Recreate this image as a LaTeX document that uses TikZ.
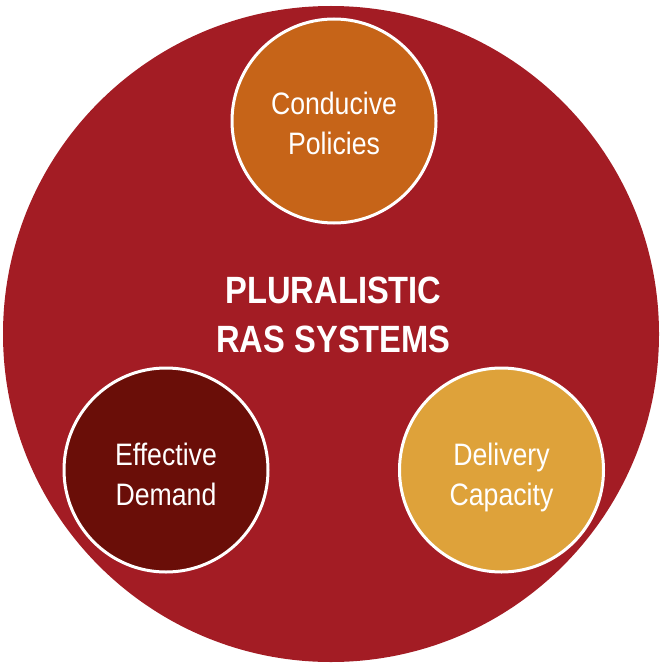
\documentclass[tikz,border=0pt]{standalone}
\usepackage{fontspec}
\setmainfont{Liberation Sans}
\newfontfamily\narrowfont[FakeStretch=0.86]{Liberation Sans}
\definecolor{bigred}{RGB}{163,28,36}
\definecolor{orangec}{RGB}{198,100,24}
\definecolor{darkc}{RGB}{106,14,8}
\definecolor{goldc}{RGB}{222,162,58}
\tikzset{
  outerc/.style={circle, fill=bigred, minimum size=656pt, inner sep=0pt},
  smallc/.style={circle, draw=white, line width=3pt, minimum size=204pt, inner sep=0pt},
  circtext/.style={text=white, align=center, inner sep=0pt, font=\narrowfont\fontsize{31}{40}\selectfont},
  titletext/.style={text=white, align=center, inner sep=0pt, font=\narrowfont\bfseries\fontsize{38}{49}\selectfont}
}
\newcommand{\ph}{\vphantom{Cy}}
\begin{document}
\begin{tikzpicture}[x=1pt,y=-1pt]
\useasboundingbox (0,0) rectangle (660,663);
\node[outerc] (outer) at (331,334) {};
\node[smallc, fill=orangec] (policies) at (334,121) {};
\node[smallc, fill=darkc] (demand) at (166,470) {};
\node[smallc, fill=goldc] (delivery) at (501.5,470) {};
\node[circtext] (policiesT) at ([yshift=-5pt]policies.center) {Conducive\ph\\Policies\ph};
\node[circtext] (demandT) at ([yshift=-7pt]demand.center) {Effective\ph\\Demand\ph};
\node[circtext] (deliveryT) at ([yshift=-7pt]delivery.center) {Delivery\ph\\Capacity\ph};
\node[titletext] (title) at (333.5,315) {PLURALISTIC\\RAS SYSTEMS};
\end{tikzpicture}
\end{document}
